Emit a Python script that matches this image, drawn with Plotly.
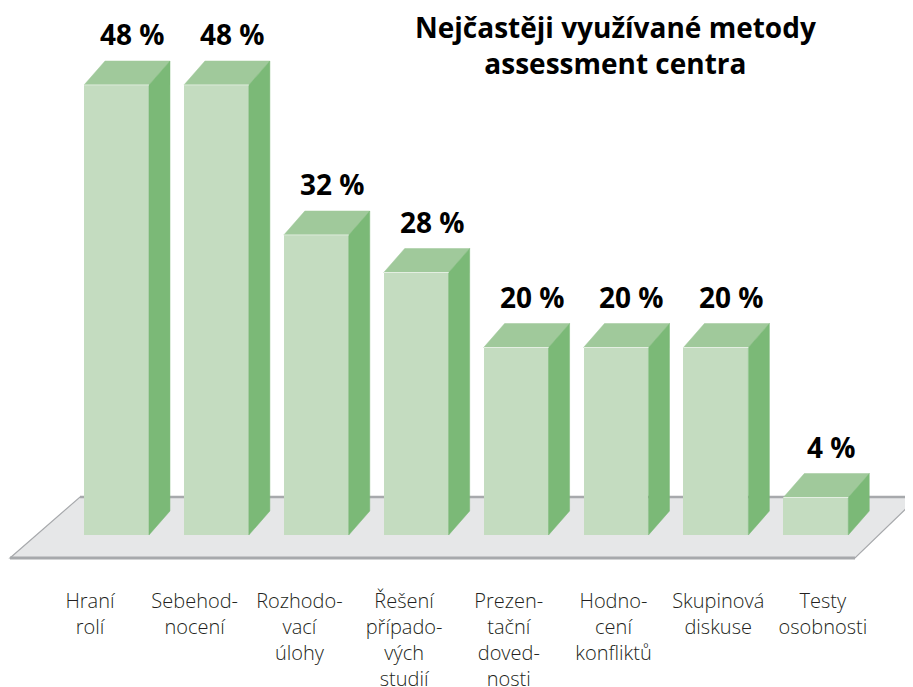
import plotly.graph_objects as go

# ---- data ----
categories = ["Hraní<br>rolí", "Sebehod-<br>nocení", "Rozhodo-<br>vací<br>úlohy",
              "Řešení<br>případo-<br>vých<br>studií", "Prezen-<br>tační<br>doved-<br>nosti",
              "Hodno-<br>cení<br>konfliktů", "Skupinová<br>diskuse", "Testy<br>osobnosti"]
values = [48, 48, 32, 28, 20, 20, 20, 4]
value_labels = ["48 %", "48 %", "32 %", "28 %", "20 %", "20 %", "20 %", "4 %"]
title_text = "<b>Nejčastěji využívané metody<br>assessment centra</b>"

# ---- style / geometry (in page pixels; the page body has an 8px margin) ----
OFF = 8
W, H = 913 - OFF, 687 - OFF
PLOT_BOTTOM = 587 - OFF     # px from figure top where plot area ends
BASE_PX = 535 - OFF         # px of value 0
PX_PER_UNIT_Y = 9.375       # px per percent
PX_PER_CAT = 99.9
FIRST_BAR_PX = 116.5 - OFF
LABEL_FIRST_PX = 90 - OFF
LABEL_PITCH = 104.7
BAR_W = 0.65
DX = 21 / PX_PER_CAT
DY = 24 / PX_PER_UNIT_Y

FRONT = "#c4dcc0"
TOP = "#a0c99b"
SIDE = "#7bb977"
FLOOR_FILL = "#e6e7e8"
FLOOR_LINE = "#a7a9ac"

x0 = -FIRST_BAR_PX / PX_PER_CAT
x1 = x0 + W / PX_PER_CAT
y_top = BASE_PX / PX_PER_UNIT_Y
y_bot = -(PLOT_BOTTOM - BASE_PX) / PX_PER_UNIT_Y

lx0 = -LABEL_FIRST_PX / LABEL_PITCH
lx1 = lx0 + W / LABEL_PITCH


def px_to_x(px):
    return (px - OFF - FIRST_BAR_PX) / PX_PER_CAT


def py_to_y(py):
    return (BASE_PX - (py - OFF)) / PX_PER_UNIT_Y


fig = go.Figure()

# floor (shapes drawn below traces)
fl = (px_to_x(10), py_to_y(558))
bl = (px_to_x(80), py_to_y(497))
br = (px_to_x(918), py_to_y(497))
fr = (px_to_x(855), py_to_y(558))
path = f"M {fl[0]},{fl[1]} L {bl[0]},{bl[1]} L {br[0]},{br[1]} L {fr[0]},{fr[1]} Z"
fig.add_shape(type="path", path=path, xref="x", yref="y", layer="below",
              fillcolor=FLOOR_FILL, line=dict(color=FLOOR_LINE, width=1.2))
fig.add_shape(type="line", x0=bl[0], y0=bl[1], x1=br[0], y1=br[1], xref="x", yref="y",
              layer="below", line=dict(color=FLOOR_LINE, width=2.5))
fig.add_shape(type="line", x0=fl[0], y0=fl[1], x1=fr[0], y1=fr[1], xref="x", yref="y",
              layer="below", line=dict(color=FLOOR_LINE, width=3))

idx = list(range(len(values)))

# front faces
fig.add_trace(go.Bar(x=idx, y=values, width=BAR_W, marker=dict(color=FRONT, line=dict(width=0)),
                     hoverinfo="skip", showlegend=False))

for i, v in zip(idx, values):
    l, r = i - BAR_W / 2, i + BAR_W / 2
    # top face
    fig.add_trace(go.Scatter(x=[l, l + DX, r + DX, r, l], y=[v, v + DY, v + DY, v, v],
                             fill="toself", fillcolor=TOP, mode="lines",
                             line=dict(color=TOP, width=0.5),
                             hoverinfo="skip", showlegend=False))
    # side face
    fig.add_trace(go.Scatter(x=[r, r + DX, r + DX, r, r], y=[0, DY, v + DY, v, 0],
                             fill="toself", fillcolor=SIDE, mode="lines",
                             line=dict(color=SIDE, width=0.5),
                             hoverinfo="skip", showlegend=False))
    # thin highlight on front top edge
    fig.add_trace(go.Scatter(x=[l, r], y=[v, v], mode="lines",
                             line=dict(color="#e4efe2", width=1),
                             hoverinfo="skip", showlegend=False))
    fig.add_annotation(x=i + 0.16, y=v + DY, text="<b>" + value_labels[i] + "</b>",
                       showarrow=False, yanchor="bottom", yshift=6,
                       font=dict(family="Open Sans", size=28, color="#000000"))

# invisible trace on label axis
fig.add_trace(go.Scatter(x=idx, y=[None] * len(idx), xaxis="x2", mode="markers",
                         hoverinfo="skip", showlegend=False))

fig.add_annotation(x=(615 - OFF) / W, y=1 - (45 - OFF) / PLOT_BOTTOM, xref="paper", yref="paper",
                   xanchor="center", yanchor="middle",
                   text=title_text, showarrow=False, align="center",
                   font=dict(family="Open Sans", size=28, color="#000000"))

fig.update_layout(
    width=W, height=H,
    margin=dict(l=0, r=0, t=0, b=H - PLOT_BOTTOM, autoexpand=False),
    paper_bgcolor="white", plot_bgcolor="white",
    bargap=0,
    xaxis=dict(range=[x0, x1], visible=False, fixedrange=True, automargin=False),
    xaxis2=dict(range=[lx0, lx1], overlaying="x", side="bottom", anchor="y",
                tickvals=idx, ticktext=categories, showgrid=False, zeroline=False,
                showline=False, ticks="", ticklen=0, automargin=False,
                tickfont=dict(family="Open Sans", size=20, color="#231f20", weight=300)),
    yaxis=dict(range=[y_bot, y_top], visible=False, fixedrange=True, automargin=False),
)

fig.write_html("out.html")
